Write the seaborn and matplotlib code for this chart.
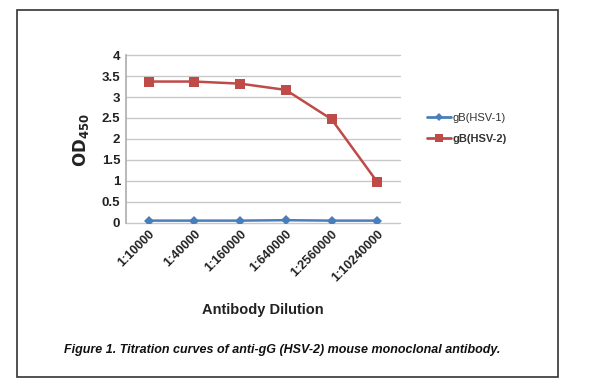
import pandas as pd
import matplotlib.pyplot as plt
import seaborn as sns
from matplotlib.patches import Rectangle

# data
dilutions = ["1:10000", "1:40000", "1:160000", "1:640000", "1:2560000", "1:10240000"]
hsv1 = [0.05, 0.05, 0.05, 0.06, 0.05, 0.05]
hsv2 = [3.37, 3.37, 3.32, 3.17, 2.47, 0.97]
series = ["gB(HSV-1)", "gB(HSV-2)"]
y_ticks = [0, 0.5, 1, 1.5, 2, 2.5, 3, 3.5, 4]
y_labels = ["0", "0.5", "1", "1.5", "2", "2.5", "3", "3.5", "4"]

rows = []
for i, d in enumerate(dilutions):
    rows.append({"Dilution": i, "OD": hsv1[i], "Series": series[0]})
    rows.append({"Dilution": i, "OD": hsv2[i], "Series": series[1]})
df = pd.DataFrame(rows)

sns.set_theme(style="white")
plt.rcParams['font.family'] = ['Liberation Sans', 'DejaVu Sans']

fig = plt.figure(figsize=(6, 3.83), dpi=100)
ax = fig.add_axes([0.2095, 0.4185, 0.4575, 0.4375])

# grid first so lines sit on top
for t in y_ticks:
    ax.axhline(t, color="#c8c8c8", lw=1.0, zorder=0, clip_on=False)

sns.lineplot(data=df, x="Dilution", y="OD", hue="Series", style="Series",
             palette={"gB(HSV-1)": "#4a7ebb", "gB(HSV-2)": "#be4b48"},
             markers={"gB(HSV-1)": "D", "gB(HSV-2)": "s"}, dashes=False,
             markersize=7, linewidth=1.8, markeredgewidth=0, ax=ax, legend=False)
# slightly smaller diamonds for the blue series
if len(ax.lines) >= 2:
    ax.lines[-2].set_markersize(5.5)

ax.set_xlim(-0.5, 5.5)
ax.set_ylim(0, 4)
ax.set_yticks(y_ticks)
ax.set_yticklabels(y_labels, fontsize=9.5, fontweight="bold", color="#222222")
ax.set_xticks(range(len(dilutions)))
ax.set_xticklabels(dilutions, rotation=45, ha="right", rotation_mode="anchor",
                   fontsize=9, fontweight="bold", color="#222222")
ax.tick_params(axis="both", length=0, pad=4)
for s in ["top", "right", "bottom"]:
    ax.spines[s].set_visible(False)
ax.spines["left"].set_color("#b0b0b0")
ax.set_xlabel("")
ax.set_ylabel("")

fig.text(0.135, 0.635, r"$\mathbf{OD_{450}}$", rotation=90, ha="center", va="center",
         fontsize=12, color="#222222")
fig.text(0.438, 0.19, "Antibody Dilution", ha="center", va="center",
         fontsize=10.5, fontweight="bold", color="#222222")
fig.text(0.471, 0.087, "Figure 1. Titration curves of anti-gG (HSV-2) mouse monoclonal antibody.",
         ha="center", va="center", fontsize=9, fontweight="bold", style="italic",
         color="#111111")

# legend
handles = [plt.Line2D([], [], color="#4a7ebb", marker="D", markersize=4, lw=2, markeredgewidth=0),
           plt.Line2D([], [], color="#be4b48", marker="s", markersize=5.5, lw=2, markeredgewidth=0)]
leg = fig.legend(handles, series, loc="center left", bbox_to_anchor=(0.695, 0.665),
                 frameon=False, fontsize=8, handlelength=2.2, handletextpad=0.1,
                 labelspacing=1.0)
for t in leg.get_texts():
    t.set_color("#333333")
leg.get_texts()[1].set_fontweight("bold")

# outer frame around the figure panel
fig.patches.append(Rectangle((17 / 600, 1 - 377 / 383), 541 / 600, 367 / 383,
                             transform=fig.transFigure, fill=False,
                             edgecolor="#333333", lw=1.2))

fig.savefig("out.png", dpi=100)
